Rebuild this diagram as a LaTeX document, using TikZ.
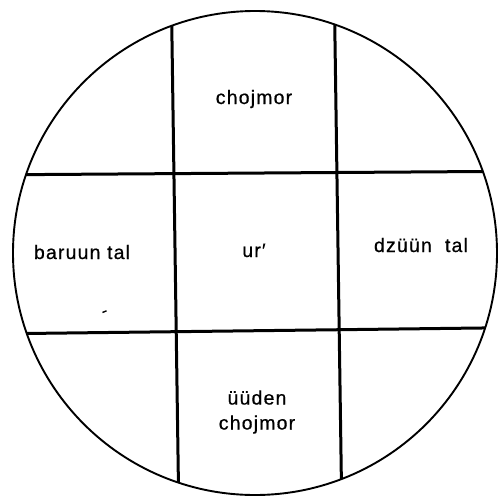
\documentclass[tikz,border=0pt]{standalone}
\usepackage{fontspec}
\setmainfont{Liberation Sans}
\newfontfamily\labfont[LetterSpace=6,FakeBold=0.6]{Liberation Sans}
\begin{document}
\begin{tikzpicture}[x=1pt,y=-1pt,
  rim/.style={line width=1.9pt},
  grid/.style={line width=3pt},
  lab/.style={anchor=base,inner sep=0pt,font=\labfont\fontsize{19.5}{22}\selectfont},
  lab2/.style={align=center,inner sep=0pt,font=\labfont\fontsize{19.5}{25}\selectfont}]
\useasboundingbox (0,0) rectangle (498,496);
\coordinate (c) at (255,253);
% grid line end points (extended, clipped to the circle)
\coordinate (v1a) at (171.4,0);   \coordinate (v1b) at (178.6,496);
\coordinate (v2a) at (334.4,0);   \coordinate (v2b) at (341.6,496);
\coordinate (h1a) at (0,174.8);   \coordinate (h1b) at (498,171.4);
\coordinate (h2a) at (0,333.8);   \coordinate (h2b) at (498,327.8);
\begin{scope}
  \clip (c) circle[radius=242];
  \draw[grid] (v1a) -- (v1b);
  \draw[grid] (v2a) -- (v2b);
  \draw[grid] (h1a) -- (h1b);
  \draw[grid] (h2a) -- (h2b);
\end{scope}
\draw[rim] (c) circle[radius=242];
% labels
\node[lab] (n) at (254,104) {chojmor};
\node[lab] (w) at (82,259) {baruun tal};
\node[lab] (m) at (254,257) {ur′};
\node[lab] (e) at (421,252) {dzüün\ \ tal};
\node[lab2] (s) at (257,412) {üüden\\chojmor};
% small stray mark
\coordinate (sp1) at (102.5,312.5); \coordinate (sp2) at (106.5,310.8);
\draw[line width=1.4pt] (sp1) -- (sp2);
\end{tikzpicture}
\end{document}
